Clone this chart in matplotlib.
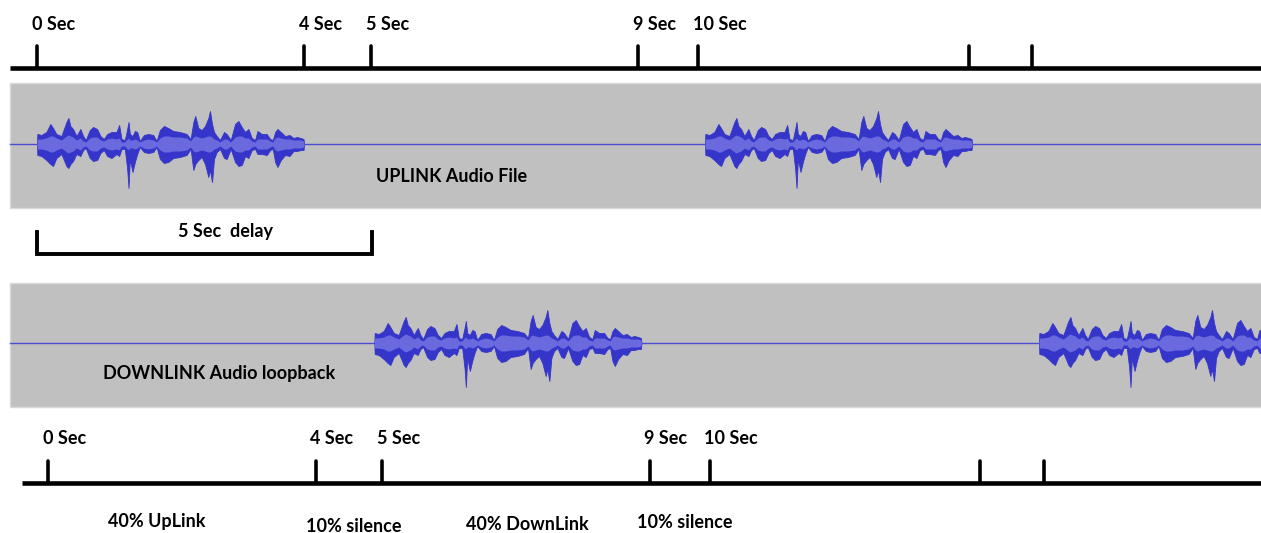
#!/usr/bin/env python

import numpy as np
import matplotlib

matplotlib.use("Agg")
import matplotlib.pyplot as plt

# Timeline ticks (seconds, as drawn) and their labels.
tick_pos = [0, 4, 5, 9, 9.9, 13.95, 14.9]
tick_labels = ["0 Sec", "4 Sec", "5 Sec", "9 Sec", "10 Sec", "", ""]

# Start times of the speech clip on each track (seconds).
uplink_starts = [0, 10]
downlink_starts = [5.05, 15.0]

# Speech clip envelope: time in clip (s), peak up / down and rms (px).
env_t = [0.00, 0.005, 0.065, 0.14, 0.20, 0.24, 0.29, 0.365, 0.44, 0.47, 0.50, 0.54,
         0.59, 0.65, 0.69, 0.73, 0.79, 0.84, 0.90, 0.95, 1.00, 1.05, 1.115, 1.19,
         1.23, 1.265, 1.315, 1.35, 1.37, 1.39, 1.43, 1.465, 1.50, 1.54, 1.60, 1.665,
         1.74, 1.79, 1.84, 1.90, 1.965, 2.04, 2.14, 2.24, 2.30, 2.34, 2.37, 2.415,
         2.465, 2.515, 2.565, 2.59, 2.62, 2.65, 2.69, 2.74, 2.80, 2.84, 2.90, 2.965,
         3.015, 3.065, 3.115, 3.165, 3.215, 3.265, 3.30, 3.365, 3.44, 3.49, 3.53,
         3.565, 3.60, 3.65, 3.715, 3.78, 3.84, 3.89, 3.95, 3.99, 4.00]
env_up = [0, 10, 9, 12, 20, 16, 10, 8, 22, 26, 18, 15, 8, 15, 8, 4, 14, 17, 15, 8, 5,
          10, 12, 12, 19, 5, 4, 15, 22, 10, 8, 13, 12, 3, 9, 10, 9, 3, 14, 18, 16, 13,
          12, 10, 5, 22, 28, 16, 14, 18, 26, 33, 20, 12, 8, 4, 12, 10, 4, 20, 23, 17,
          12, 15, 6, 4, 13, 10, 10, 5, 4, 12, 15, 12, 8, 9, 6, 7, 6, 5, 0]
env_down = [0, 11, 12, 16, 20, 22, 14, 10, 22, 24, 20, 17, 10, 12, 6, 4, 14, 17, 16, 9,
            6, 12, 14, 10, 12, 5, 5, 25, 44, 15, 28, 18, 10, 3, 8, 9, 8, 3, 15, 19, 18,
            14, 13, 11, 5, 26, 20, 16, 13, 20, 33, 26, 38, 15, 8, 5, 14, 15, 5, 18, 22,
            21, 12, 14, 6, 5, 10, 10, 11, 6, 5, 18, 23, 16, 11, 12, 7, 7, 6, 6, 0]
env_rms = [0, 5, 5, 6, 8, 8, 6, 4, 8, 9, 8, 7, 4, 6, 3, 2, 6, 7, 7, 4, 3, 5, 6, 5, 6, 2,
           2, 5, 6, 4, 4, 5, 4, 2, 4, 5, 4, 2, 6, 8, 8, 7, 7, 6, 3, 7, 8, 7, 6, 7, 8, 8,
           7, 5, 4, 2, 5, 5, 2, 7, 8, 8, 6, 6, 3, 2, 5, 5, 5, 3, 2, 6, 7, 6, 5, 5, 4, 4,
           4, 3, 0]

# Phase annotations under the lower timeline.
phase_labels = ["40% UpLink", "10% silence", "40% DownLink", "10% silence"]
phase_x = [1.63, 4.57, 7.17, 9.53]
phase_y = [522, 527, 525, 522]

delay_label = "5 Sec  delay"

FONT = ["Lato", "DejaVu Sans"]
FS = 13
PX_PER_SEC = 66.8
X0_PX = 37
W, H = 1261, 533
BLUE_DARK = "#3535c9"
BLUE_LIGHT = "#6a6ade"
GRAY = "#c0c0c0"


def px2s(px):
    return (px - X0_PX) / PX_PER_SEC


def draw_timeline(ax, y, x_start_px, offset, label_y):
    ax.plot([px2s(x_start_px), px2s(W + 5)], [y, y], color="black", lw=3.3,
            solid_capstyle="butt")
    for pos, lab in zip(tick_pos, tick_labels):
        x = pos + offset
        ax.plot([x, x], [y, y - 22], color="black", lw=2.6, solid_capstyle="round")
        if lab:
            ax.text(x - 0.08, label_y, lab, ha="left", va="center", fontsize=FS,
                    fontweight="bold", family=FONT)


def draw_track(ax, top, bottom, center, starts):
    ax.fill_between([px2s(10), px2s(W + 5)], top, bottom, color=GRAY,
                    edgecolor="#d9d9d9", lw=1, zorder=1)
    ax.plot([px2s(10), px2s(W + 5)], [center, center], color="#4c4cd2", lw=1, zorder=2)
    t = np.array(env_t)
    up = np.array(env_up)
    down = np.array(env_down)
    rms = np.array(env_rms)
    for s in starts:
        ax.fill_between(t + s, center - up, center + down, color=BLUE_DARK, lw=0.6,
                        edgecolor=BLUE_DARK, zorder=3)
        ax.fill_between(t + s, center - rms, center + rms, color=BLUE_LIGHT, lw=0,
                        zorder=4)


def main():
    fig = plt.figure(figsize=(W / 100, H / 100), dpi=100)
    ax = fig.add_axes([0, 0, 1, 1])
    ax.set_xlim(px2s(0), px2s(W))
    ax.set_ylim(H, 0)
    ax.axis("off")

    # Top timeline and uplink track.
    draw_timeline(ax, 68, 10, 0.0, 24)
    draw_track(ax, 83, 208, 144, uplink_starts)
    ax.text(px2s(452), 176, "UPLINK Audio File", ha="center", va="center",
            fontsize=FS, fontweight="bold", family=FONT)

    # Delay bracket.
    ax.plot([0, 0, 5.02, 5.02], [232, 254, 254, 232], color="black", lw=2.8,
            solid_joinstyle="miter")
    ax.text(px2s(225), 232, delay_label, ha="center", va="center", fontsize=FS,
            fontweight="bold", family=FONT)

    # Downlink track.
    draw_track(ax, 283, 407, 343, downlink_starts)
    ax.text(px2s(103), 374, "DOWNLINK Audio loopback", ha="left", va="center",
            fontsize=FS, fontweight="bold", family=FONT)

    # Bottom timeline.
    draw_timeline(ax, 483, 22, 0.17, 438)
    for lab, x, y in zip(phase_labels, phase_x, phase_y):
        ax.text(x + 0.17, y, lab, ha="center", va="center", fontsize=FS,
                fontweight="bold", family=FONT)

    fig.savefig("out.png", dpi=100)


if __name__ == "__main__":
    main()
